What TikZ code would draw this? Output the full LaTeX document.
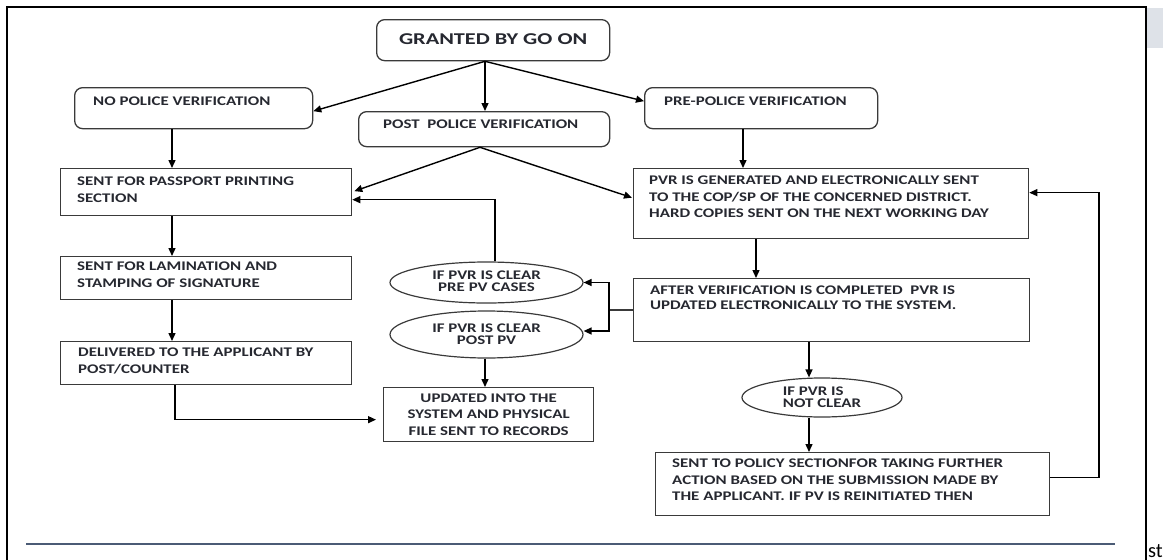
\documentclass[tikz,border=0pt]{standalone}
\usepackage{fontspec}
\setmainfont{Carlito}
\newfontfamily\boxfont[FakeStretch=1.28]{Carlito Bold}
\newfontfamily\bigfont[FakeStretch=1.35]{Carlito Bold}
\usetikzlibrary{shapes.geometric,arrows.meta}
\definecolor{ln}{HTML}{3A3A3A}
\definecolor{tx}{HTML}{262830}
\definecolor{rule}{HTML}{4B5B75}
\definecolor{tab}{HTML}{DEE2E8}
\tikzset{
  txt/.style={font=\boxfont\fontsize{13.2}{16.5}\selectfont, text=tx, align=left, inner sep=0pt},
  rbox/.style={draw=ln, line width=1.3pt, rounded corners=8pt, anchor=north west, inner sep=0pt},
  sbox/.style={draw=ln, line width=1.3pt, anchor=north west, inner sep=0pt},
  oval/.style={ellipse, draw=ln, line width=1.2pt, inner sep=0pt, font=\boxfont\fontsize{13.2}{16}\selectfont, text=tx, align=center},
  arr/.style={-{Triangle[length=8pt,width=7pt]}, line width=1.4pt, draw=black},
  back/.style={line width=1.2pt, draw=ln},
}
\begin{document}
\begin{tikzpicture}[x=1pt,y=-1pt]
\useasboundingbox (0,0) rectangle (1163,560);
% frame and page bits
\draw[line width=2pt] (7,560) -- (7,7) -- (1146,7) -- (1146,560);
\fill[tab] (1147,8) rectangle (1163,48);
\draw[rule, line width=2.2pt] (26,544) -- (1115,544);
\node[anchor=base west, inner sep=0pt, font=\fontsize{20.5}{21}\selectfont] (st) at (1148,557) {st};

% boxes
\node[rbox, minimum width=233pt, minimum height=41pt, font=\bigfont\fontsize{16.5}{18}\selectfont, text=tx] (grant) at (376,19) {\raisebox{3pt}{GRANTED BY GO ON}};
\node[rbox, minimum width=238pt, minimum height=41pt,
  label={[txt, anchor=north west, xshift=19pt, yshift=-10pt]north west:NO POLICE VERIFICATION}] (nopv) at (74,87) {};
\node[rbox, minimum width=251pt, minimum height=35pt,
  label={[txt, anchor=north west, xshift=25pt, yshift=-9pt]north west:POST\ \ POLICE VERIFICATION}] (post) at (358,111) {};
\node[rbox, minimum width=233pt, minimum height=41pt,
  label={[txt, anchor=north west, xshift=20pt, yshift=-10pt]north west:PRE-POLICE VERIFICATION}] (pre) at (644,87) {};

\node[sbox, minimum width=291pt, minimum height=47pt,
  label={[txt, anchor=north west, xshift=17pt, yshift=-9pt]north west:SENT FOR PASSPORT PRINTING\\SECTION}] (pass) at (60,168) {};
\node[sbox, minimum width=291pt, minimum height=43pt,
  label={[txt, anchor=north west, xshift=17pt, yshift=-6pt]north west:SENT FOR LAMINATION AND\\STAMPING OF SIGNATURE}] (lam) at (60,256) {};
\node[sbox, minimum width=291pt, minimum height=43pt,
  label={[txt, anchor=north west, xshift=18pt, yshift=-7pt]north west:DELIVERED TO THE APPLICANT BY\\POST/COUNTER}] (deliv) at (60,341) {};
\node[sbox, minimum width=210pt, minimum height=54pt, txt, align=center] (upd) at (383,387) {UPDATED INTO THE\\SYSTEM AND PHYSICAL\\FILE SENT TO RECORDS};

\node[sbox, minimum width=395pt, minimum height=70pt,
  label={[txt, anchor=north west, xshift=16pt, yshift=-8pt]north west:PVR IS GENERATED AND ELECTRONICALLY SENT\\TO THE COP/SP OF THE CONCERNED DISTRICT.\\HARD COPIES SENT ON THE NEXT WORKING DAY}] (pvr) at (633,168) {};
\node[sbox, minimum width=396pt, minimum height=63pt,
  label={[txt, font=\boxfont\fontsize{13.2}{14.5}\selectfont, anchor=north west, xshift=17pt, yshift=-8pt]north west:AFTER VERIFICATION IS COMPLETED\ \ PVR IS\\UPDATED ELECTRONICALLY TO THE SYSTEM.}] (after) at (633,278) {};
\node[sbox, minimum width=394pt, minimum height=63pt,
  label={[txt, anchor=north west, xshift=17pt, yshift=-7pt]north west:SENT TO POLICY SECTIONFOR TAKING FURTHER\\ACTION BASED ON THE SUBMISSION MADE BY\\THE APPLICANT. IF PV IS REINITIATED THEN}] (pol) at (655,452) {};

% decisions
\node[oval, minimum width=193pt, minimum height=41pt] (e1) at (486.5,282.5) {\raisebox{2pt}{\shortstack{IF PVR IS CLEAR\\PRE PV CASES}}};
\node[oval, minimum width=193pt, minimum height=47pt] (e2) at (486.5,334.5) {\shortstack{IF PVR IS CLEAR\\POST PV}};
\node[oval, minimum width=160pt, minimum height=39pt] (enc) at (822,397.5) {\shortstack[l]{IF PVR IS\\NOT CLEAR}};

% helper coordinates
\coordinate (cG) at (485,0);
\coordinate (cP) at (480,0);
\coordinate (cL) at (172,0);
\coordinate (cD) at (175,0);
\coordinate (cR) at (743,0);
\coordinate (cV) at (756,0);
\coordinate (cA) at (809,0);
\coordinate (cB) at (609,310);
\coordinate (cE) at (495,0);
\coordinate (cX) at (1099,0);

% connectors
\draw[arr] (grant.south -| cG) -- ([yshift=-3pt]nopv.east);
\draw[arr] (grant.south -| cG) -- (post.north -| cG);
\draw[arr] (grant.south -| cG) -- ([yshift=7pt]pre.west);
\draw[arr] (nopv.south -| cL) -- (pass.north -| cL);
\draw[arr] (post.south -| cP) -- ([xshift=2pt,yshift=1pt]pass.east);
\draw[arr] (post.south -| cP) -- ([xshift=-1pt,yshift=6pt]pvr.west);
\draw[arr] (pre.south -| cR) -- (pvr.north -| cR);
\draw[arr] (pass.south -| cL) -- (lam.north -| cL);
\draw[arr] (lam.south -| cL) -- (deliv.north -| cL);
\draw[arr, shorten >=7pt] (deliv.south -| cD) |- ([yshift=-5pt]upd.west);
\draw[arr] (e1.north -| cE) |- ([yshift=-7.5pt]pass.east);
\draw[back] (after.west |- cB) -- (cB);
\draw[arr] (cB) |- (e1.east);
\draw[arr] (cB) |- ([yshift=3.5pt]e2.east);
\draw[arr] (e2.south -| cG) -- (upd.north -| cG);
\draw[arr] (pvr.south -| cV) -- (after.north -| cV);
\draw[arr] (after.south -| cA) -- (enc.north -| cA);
\draw[arr] (enc.south -| cA) -- (pol.north -| cA);
\draw[arr, line width=1.2pt] ([yshift=7pt]pol.east) -| ([yshift=11pt]pvr.east -| cX) -- ([yshift=11pt]pvr.east);
\end{tikzpicture}
\end{document}
